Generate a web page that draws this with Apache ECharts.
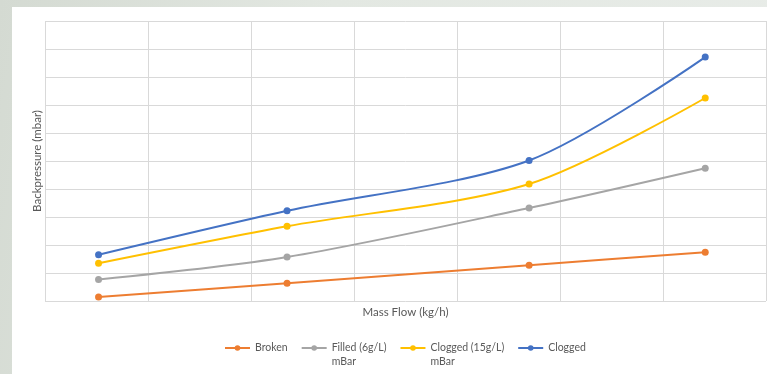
<!DOCTYPE html>
<html>
<head>
<meta charset="utf-8">
<script src="https://cdn.jsdelivr.net/npm/echarts@6/dist/echarts.min.js"></script>
<style>
  html, body { margin: 0; padding: 0; }
  body {
    width: 767px; height: 374px; overflow: hidden;
    background: linear-gradient(100deg, #d4dad2 0%, #e3e8e2 40%, #e8ece8 100%);
  }
  #chart { width: 767px; height: 374px; }
</style>
</head>
<body>
<div id="chart"></div>
<script>
// Mass flow positions (kg/h) for the four measurement points
const massFlow = [5.2, 23.5, 47.0, 64.1];

// Backpressure readings (mbar) per filter condition
const broken      = [0.14, 0.63, 1.28, 1.74];
const filled6     = [0.77, 1.57, 3.32, 4.74];
const clogged15   = [1.35, 2.67, 4.18, 7.25];
const clogged     = [1.65, 3.22, 5.02, 8.71];

// Series names as shown in the legend
const seriesNames = ['Broken', 'Filled (6g/L)\nmBar', 'Clogged (15g/L)\nmBar', 'Clogged'];
const seriesColors = ['#ED7D31', '#A5A5A5', '#FFC000', '#4472C4'];
const seriesData = [broken, filled6, clogged15, clogged];

const textColor = '#595959';
const gridColor = '#d9d9d9';
const fontFamily = 'Lato, "Liberation Sans", sans-serif';

const chart = echarts.init(document.getElementById('chart'), null, { renderer: 'canvas' });

const series = seriesNames.map((name, i) => ({
  name: name,
  type: 'line',
  smooth: 0.3,
  symbol: 'circle',
  symbolSize: 7,
  data: massFlow.map((x, j) => [x, seriesData[i][j]]),
  itemStyle: { color: seriesColors[i] },
  lineStyle: { color: seriesColors[i], width: 2 },
  z: 3 + i
}));

chart.setOption({
  backgroundColor: 'transparent',
  animation: false,
  textStyle: { fontFamily: fontFamily },
  graphic: [{
    type: 'rect',
    z: -10,
    silent: true,
    shape: { x: 12, y: 7, width: 760, height: 370 },
    style: { fill: '#ffffff' }
  }],
  grid: { left: 45, right: 1, top: 21, bottom: 73, containLabel: false },
  xAxis: {
    type: 'value',
    min: 0, max: 70, interval: 10,
    name: 'Mass Flow (kg/h)',
    nameLocation: 'middle',
    nameGap: 5,
    nameTextStyle: { color: textColor, fontSize: 11.5, fontFamily: fontFamily },
    axisLine: { show: false },
    axisTick: { show: false },
    axisLabel: { show: false },
    splitLine: { show: true, lineStyle: { color: gridColor, width: 1 } }
  },
  yAxis: {
    type: 'value',
    min: 0, max: 10, interval: 1,
    name: 'Backpressure (mbar)',
    nameLocation: 'middle',
    nameRotate: 90,
    nameGap: 2,
    nameTextStyle: { color: textColor, fontSize: 11.5, fontFamily: fontFamily },
    axisLine: { show: false },
    axisTick: { show: false },
    axisLabel: { show: false },
    splitLine: { show: true, lineStyle: { color: gridColor, width: 1 } }
  },
  legend: {
    left: 224,
    top: 327,
    padding: 0,
    itemGap: 13,
    itemWidth: 25,
    itemHeight: 7,
    // three-line label block keeps the first line level with the icon
    formatter: function (name) {
      const parts = name.split('\n');
      return ' \n' + parts[0] + '\n' + (parts[1] || ' ');
    },
    textStyle: {
      color: textColor,
      fontSize: 10.5,
      fontFamily: fontFamily,
      lineHeight: 14
    },
    data: seriesNames
  },
  series: series
});
</script>
</body>
</html>
